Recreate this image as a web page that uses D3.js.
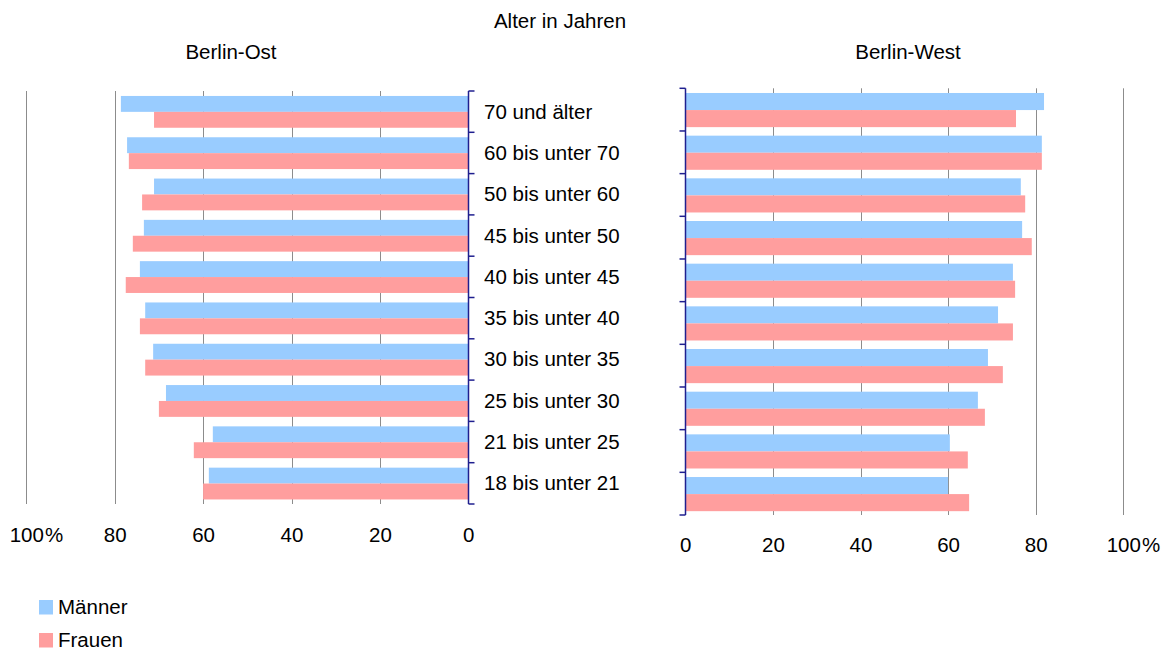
<!DOCTYPE html>
<html>
<head>
<meta charset="utf-8">
<script src="https://cdn.jsdelivr.net/npm/d3@7"></script>
<style>
  html, body { margin: 0; padding: 0; background: #fff; }
  svg { display: block; font-family: "Liberation Sans", Arial, sans-serif; }
  text { fill: #000; }
</style>
</head>
<body>
<svg id="chart" width="1166" height="652"></svg>
<script>
const categories = ["70 und älter", "60 bis unter 70", "50 bis unter 60", "45 bis unter 50",
  "40 bis unter 45", "35 bis unter 40", "30 bis unter 35", "25 bis unter 30",
  "21 bis unter 25", "18 bis unter 21"];
const series = ["Männer", "Frauen"];
const ostMaenner = [78.6, 77.2, 71.1, 73.4, 74.3, 73.1, 71.3, 68.4, 57.8, 58.7];
const ostFrauen  = [71.1, 76.8, 73.8, 75.9, 77.5, 74.3, 73.1, 70.0, 62.1, 60.0];
const westMaenner = [81.9, 81.4, 76.6, 76.9, 74.8, 71.4, 69.1, 66.8, 60.4, 60.0];
const westFrauen  = [75.5, 81.4, 77.6, 79.1, 75.3, 74.8, 72.5, 68.4, 64.5, 64.8];
const xTicks = [0, 20, 40, 60, 80, 100];
const title = "Alter in Jahren";
const panelTitles = ["Berlin-Ost", "Berlin-West"];

const colors = { "Männer": "#99ccff", "Frauen": "#ff9e9e" };
const axisColor = "#1f1f8f";
const gridColor = "#8c8c8c";
const fontSize = 20.5;

const svg = d3.select("#chart");

function panel(opts) {
  const { x0, x100, yTop, yBot, m, f, tickSide, labelY, gTitle, titleX } = opts;
  const g = svg.append("g");
  const x = d3.scaleLinear().domain([0, 100]).range([x0, x100]);
  const y = d3.scaleBand().domain(categories).range([yTop, yBot]).padding(0);
  const bw = y.bandwidth();
  const sub = d3.scaleBand().domain(series).range([bw * opts.groupOff, bw * (opts.groupOff + opts.groupH)]).padding(0);

  // gridlines
  g.append("g").selectAll("line").data(xTicks.filter(d => d > 0)).join("line")
    .attr("x1", d => Math.round(x(d)) + 0.5).attr("x2", d => Math.round(x(d)) + 0.5)
    .attr("y1", yTop).attr("y2", yBot)
    .attr("stroke", gridColor).attr("stroke-width", 1);

  // bars
  const rows = categories.map((c, i) => ({ c, "Männer": m[i], "Frauen": f[i] }));
  const grp = g.append("g").selectAll("g").data(rows).join("g")
    .attr("transform", d => `translate(0,${y(d.c)})`);
  grp.selectAll("rect").data(d => series.map(s => ({ s, v: d[s] }))).join("rect")
    .attr("x", d => Math.min(x(0), x(d.v)))
    .attr("width", d => Math.abs(x(d.v) - x(0)))
    .attr("y", d => sub(d.s))
    .attr("height", sub.bandwidth())
    .attr("fill", d => colors[d.s]);

  // category axis line + ticks at boundaries
  const ax = Math.round(x(0)) + 0.5;
  g.append("line").attr("x1", ax).attr("x2", ax).attr("y1", yTop).attr("y2", yBot)
    .attr("stroke", axisColor).attr("stroke-width", 1.5);
  const bounds = categories.map(c => y(c)).concat([yBot]);
  g.append("g").selectAll("line").data(bounds).join("line")
    .attr("x1", ax).attr("x2", ax + tickSide * 6)
    .attr("y1", d => d).attr("y2", d => d)
    .attr("stroke", axisColor).attr("stroke-width", 1.5);

  // value axis labels
  const axis = d3.axisBottom(x).tickValues(xTicks).tickSize(0).tickPadding(0)
    .tickFormat(d => d3.format("d")(d));
  const ag = g.append("g").attr("transform", `translate(0,${labelY})`).call(axis);
  ag.select(".domain").remove();
  ag.selectAll("text").attr("font-size", fontSize).attr("font-family", "Liberation Sans, Arial, sans-serif")
    .attr("fill", "#000").attr("dy", 0);
  ag.selectAll(".tick").filter(d => d === 100).each(function () {
    const t = d3.select(this).select("text");
    const w = t.node().getComputedTextLength();
    d3.select(this).append("text").attr("x", w / 2 + 1).attr("y", 0)
      .attr("text-anchor", "start").attr("font-size", fontSize)
      .attr("font-family", "Liberation Sans, Arial, sans-serif").attr("fill", "#000").text("%");
  });

  // panel title
  svg.append("text").attr("x", titleX).attr("y", 59).attr("text-anchor", "middle")
    .attr("font-size", fontSize).text(gTitle);

  return { y };
}

const left = panel({ x0: 468.3, x100: 26.3, yTop: 91, yBot: 504, m: ostMaenner, f: ostFrauen,
  tickSide: 1, labelY: 541.5, gTitle: panelTitles[0], titleX: 231, groupOff: 0.12, groupH: 0.77 });
panel({ x0: 685.3, x100: 1123.3, yTop: 88.3, yBot: 515, m: westMaenner, f: westFrauen,
  tickSide: -1, labelY: 551.5, gTitle: panelTitles[1], titleX: 908, groupOff: 0.11, groupH: 0.80 });

// category labels
svg.append("g").selectAll("text").data(categories).join("text")
  .attr("x", 484).attr("y", d => left.y(d) + left.y.bandwidth() / 2 + 7)
  .attr("font-size", fontSize).text(d => d);

// main title
svg.append("text").attr("x", 560).attr("y", 27.5).attr("text-anchor", "middle")
  .attr("font-size", fontSize).text(title);

// legend
const leg = svg.append("g").selectAll("g").data(series).join("g")
  .attr("transform", (d, i) => `translate(39,${600 + i * 33})`);
leg.append("rect").attr("width", 14).attr("height", 14.5).attr("fill", d => colors[d]);
leg.append("text").attr("x", 19).attr("y", 13.5).attr("font-size", fontSize).text(d => d);
</script>
</body>
</html>
